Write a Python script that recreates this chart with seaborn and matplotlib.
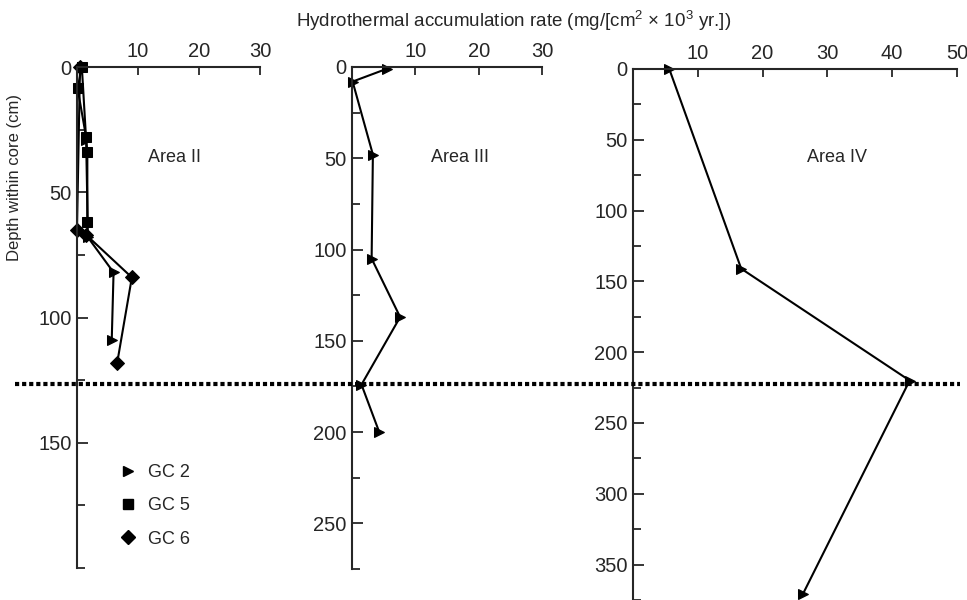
import pandas as pd
import matplotlib
matplotlib.use("Agg")
from matplotlib import pyplot as plt
from matplotlib.lines import Line2D
from matplotlib.ticker import FixedLocator
import matplotlib.transforms as mtransforms
import seaborn as sns

# Area II cores (rate in mg/[cm2 x 10^3 yr], depth in cm)
a2_gc2_rate = [0.8, 1.5, 1.8, 6.0, 5.7]
a2_gc2_depth = [0, 29, 68, 82, 109]
a2_gc5_rate = [0.8, 0.1, 1.5, 1.7, 1.7]
a2_gc5_depth = [0, 8.5, 28, 34, 62]
a2_gc6_rate = [0.5, 0.0, 1.5, 9.0, 6.6]
a2_gc6_depth = [0, 65, 67, 84, 118]

# Area III
a3_gc2_rate = [5.5, 0.1, 3.3, 3.1, 7.6, 1.5, 4.3]
a3_gc2_depth = [1, 8, 48, 105, 137, 174, 200]

# Area IV
a4_gc2_rate = [5.6, 16.7, 42.7, 26.2]
a4_gc2_depth = [0, 141, 220, 371]

# boundary depth (Area II depth scale) shown as dotted line across figure
boundary_depth = 126.5

markers = {"GC 2": ">", "GC 5": "s", "GC 6": "D"}


def long_df(series):
    rows = []
    for core, rate, depth in series:
        for r, d in zip(rate, depth):
            rows.append({"core": core, "rate": r, "depth": d})
    return pd.DataFrame(rows)


def style_axis(ax, xmax, xticks, ymax, yticks, yminor):
    ax.set_xlim(0, xmax)
    ax.set_ylim(ymax, 0)
    ax.spines["right"].set_visible(False)
    ax.spines["bottom"].set_visible(False)
    ax.spines["top"].set_linewidth(1.5)
    ax.spines["left"].set_linewidth(1.5)
    ax.xaxis.set_ticks_position("top")
    ax.set_xticks(xticks)
    ax.set_yticks(yticks)
    ax.yaxis.set_minor_locator(FixedLocator(yminor))
    ax.tick_params(axis="x", which="major", direction="in", length=6, width=1.3,
                   pad=4, labelsize=14.5, top=True, bottom=False,
                   labeltop=True, labelbottom=False)
    ax.tick_params(axis="y", which="major", direction="in", length=8, width=1.3,
                   pad=4, labelsize=14.5)
    ax.tick_params(axis="y", which="minor", direction="in", length=6, width=1.3)
    ax.set_xlabel("")
    ax.set_ylabel("")


sns.set_style("ticks")
plt.rcParams["font.family"] = ["Liberation Sans", "DejaVu Sans"]
plt.rcParams["mathtext.default"] = "regular"

fig = plt.figure(figsize=(9.67, 6.0), dpi=100)
ax1 = fig.add_axes([0.0796, 0.0533, 0.1892, 0.835])
ax2 = fig.add_axes([0.364, 0.0517, 0.1965, 0.8367])
ax3 = fig.add_axes([0.6546, 0.0, 0.335, 0.885])

line_kw = dict(x="rate", y="depth", style="core", dashes=False, sort=False,
               estimator=None, color="black", legend=False, markersize=7.5,
               markeredgecolor="black", linewidth=1.5, clip_on=False)

df2 = long_df([("GC 2", a2_gc2_rate, a2_gc2_depth),
               ("GC 5", a2_gc5_rate, a2_gc5_depth),
               ("GC 6", a2_gc6_rate, a2_gc6_depth)])
sns.lineplot(data=df2, ax=ax1, markers=markers, **line_kw)

df3 = long_df([("GC 2", a3_gc2_rate, a3_gc2_depth)])
sns.lineplot(data=df3, ax=ax2, markers={"GC 2": ">"}, **line_kw)

df4 = long_df([("GC 2", a4_gc2_rate, a4_gc2_depth)])
sns.lineplot(data=df4, ax=ax3, markers={"GC 2": ">"}, **line_kw)

style_axis(ax1, 30, [10, 20, 30], 200, [0, 50, 100, 150], [25, 75, 125, 175, 200])
style_axis(ax2, 30, [10, 20, 30], 275, [0, 50, 100, 150, 200, 250],
           [25, 75, 125, 175, 225, 275])
style_axis(ax3, 50, [10, 20, 30, 40, 50], 375, [0, 50, 100, 150, 200, 250, 300, 350],
           [25, 75, 125, 175, 225, 275, 325, 375])

ax1.text(0.535, 0.82, "Area II", transform=ax1.transAxes, ha="center", va="center", fontsize=13)
ax2.text(0.57, 0.82, "Area III", transform=ax2.transAxes, ha="center", va="center", fontsize=13)
ax3.text(0.63, 0.834, "Area IV", transform=ax3.transAxes, ha="center", va="center", fontsize=13)

ax1.set_ylabel("Depth within core (cm)", fontsize=12)
ax1.yaxis.set_label_coords(-0.30, 0.78)

handles = [Line2D([], [], marker=markers[k], color="black", linestyle="none", markersize=7.5)
           for k in markers]
ax1.legend(handles, list(markers.keys()), frameon=False, loc="upper left",
           bbox_to_anchor=(0.13, 0.24), fontsize=13, handletextpad=0.5,
           labelspacing=0.9, handlelength=1.2)

# dotted boundary line across all panels
trans = mtransforms.blended_transform_factory(fig.transFigure, ax1.transData)
fig.add_artist(Line2D([15 / 967, 960 / 967], [boundary_depth, boundary_depth],
                      transform=trans, color="black", linewidth=3,
                      linestyle=(0, (1, 0.7))))

fig.text(0.531, 0.965, r"Hydrothermal accumulation rate (mg/[cm$^2$ × 10$^3$ yr.])",
         ha="center", va="center", fontsize=13.5)

fig.savefig("out.png", dpi=100)
